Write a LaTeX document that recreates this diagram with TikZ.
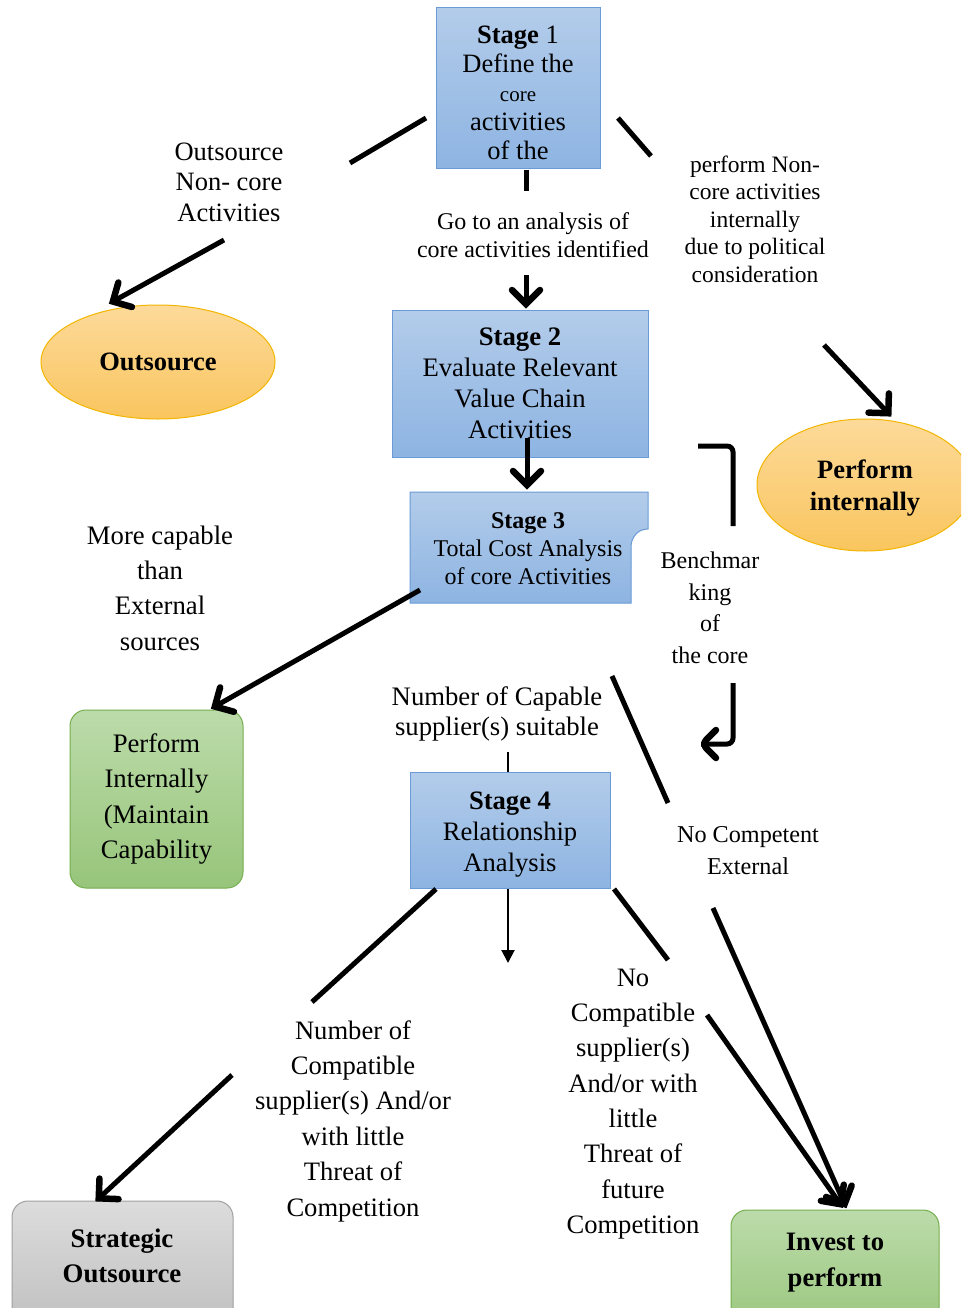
\documentclass[tikz,border=0pt]{standalone}
\usepackage{fontspec}
\setmainfont{Liberation Serif}
\usetikzlibrary{arrows.meta,shapes.geometric,decorations.markings}
\definecolor{blueTop}{HTML}{B3CCEA}
\definecolor{blueBot}{HTML}{8DB4E2}
\definecolor{blueEdge}{HTML}{6A9BD6}
\definecolor{orTop}{HTML}{FDDA9A}
\definecolor{orBot}{HTML}{F9C55E}
\definecolor{orEdge}{HTML}{F2B600}
\definecolor{grTop}{HTML}{BCDBAA}
\definecolor{grBot}{HTML}{97C57A}
\definecolor{grEdge}{HTML}{74AE4E}
\definecolor{gyTop}{HTML}{DCDCDC}
\definecolor{gyBot}{HTML}{BDBDBD}
\definecolor{gyEdge}{HTML}{A0A0A0}
\newcommand{\fsz}[2]{\fontsize{#1}{#2}\selectfont}
\begin{document}
\begin{tikzpicture}[x=1pt,y=-1pt,
  bluebox/.style={draw=blueEdge, line width=1pt, top color=blueTop, bottom color=blueBot, inner sep=0pt, align=center},
  orell/.style={ellipse, draw=orEdge, line width=1pt, top color=orTop, bottom color=orBot, inner sep=0pt, align=center},
  greenbox/.style={draw=grEdge, line width=1pt, rounded corners=16pt, top color=grTop, bottom color=grBot, inner sep=0pt, align=center},
  graybox/.style={draw=gyEdge, line width=1pt, rounded corners=16pt, top color=gyTop, bottom color=gyBot, inner sep=0pt, align=center},
  lbl/.style={align=center, inner sep=0pt},
  thk/.style={line width=5pt},
  thkarr/.style={line width=5pt, postaction={decorate, decoration={markings,
      mark=at position 1 with {\draw[line width=6.5pt, line join=miter, line cap=round] (-15pt,14pt) -- (-1pt,0pt) -- (-15pt,-14pt);}}}},
  thin/.style={line width=2pt},
  thinarr/.style={line width=2pt, -{Triangle[length=13pt,width=13pt]}}
]
\clip (0,0) rectangle (961,1308);
\fill[white] (0,0) rectangle (961,1308);

% ---------- Stage 1 ----------
\node[bluebox, minimum width=164pt, minimum height=161pt] (s1) at (518,88.5) {};
\node[lbl, font=\fsz{26.5}{29}] (s1txt) at (518,93)
  {\textbf{Stage} 1\\Define the\\{\fsz{21}{29}core}\\activities\\of the};

% ---------- labels ----------
\node[lbl, font=\fsz{26.5}{30.5}] (tout) at (229,182) {Outsource\\Non- core\\Activities};
\node[lbl, font=\fsz{24}{28}] (tgo) at (533,235) {Go to an analysis of\\core activities identified};
\node[lbl, font=\fsz{23.5}{27.5}] (tpnc) at (755,219) {perform Non-\\core activities\\internally\\due to political\\consideration};

% ---------- Outsource ----------
\node[orell, minimum width=234pt, minimum height=114pt, font=\fsz{26.5}{30}] (outs) at (158,362)
  {\textbf{Outsource}};
\node[orell, minimum width=216pt, minimum height=132pt] (pint) at (865,485) {};
\node[lbl, font=\fsz{26.5}{32}] (pinttxt) at (865,488) {\textbf{Perform}\\\textbf{internally}};

% ---------- Stage 2 ----------
\node[bluebox, minimum width=256pt, minimum height=147pt, font=\fsz{26.7}{31}] (s2) at (520,383.5)
  {\textbf{Stage 2}\\Evaluate Relevant\\Value Chain\\Activities};

% ---------- Stage 3 (notched) ----------
\path[draw=blueEdge, line width=1pt, top color=blueTop, bottom color=blueBot]
  (410,492) -- (648,492) -- (648,529) .. controls (638,529) and (631,537) .. (631,547)
  -- (631,603) -- (410,603) -- cycle;
\node[lbl, font=\fsz{24}{28}] (s3) at (528,549) {\textbf{Stage 3}\\Total Cost Analysis\\of core Activities};

% ---------- benchmarking ----------
\node[lbl, font=\fsz{24}{31.5}] (tbench) at (710,608) {Benchmar\\king\\of\\the core};
\node[lbl, font=\fsz{26.7}{35.3}] (tmore) at (160,588) {More capable\\than\\External\\sources};

% ---------- Perform Internally (Maintain Capability ----------
\node[greenbox, minimum width=173pt, minimum height=178pt, font=\fsz{26.7}{35.3}] (pim) at (156.5,799)
  {Perform\\Internally\\(Maintain\\Capability};

% ---------- Stage 4 ----------
\node[lbl, font=\fsz{26.7}{30}] (tnum) at (497,714) {Number of Capable\\supplier(s) suitable};
\node[bluebox, minimum width=200pt, minimum height=116pt] (s4) at (510,830) {};
\node[lbl, font=\fsz{26.6}{31}] (s4txt) at (510,835) {\textbf{Stage 4}\\Relationship\\Analysis};
\node[lbl, font=\fsz{24.2}{32}] (tnoc) at (748,851) {No Competent\\External};

% ---------- bottom labels ----------
\node[lbl, font=\fsz{26.6}{35.4}] (tcomp) at (353,1121) {Number of\\Compatible\\supplier(s) And/or\\with little\\Threat of\\Competition};
\node[lbl, font=\fsz{26.6}{35.3}] (tnocomp) at (633,1104) {No\\Compatible\\supplier(s)\\And/or with\\little\\Threat of\\future\\Competition};

% ---------- bottom boxes ----------
\node[graybox, minimum width=221pt, minimum height=140pt] (strat) at (122.5,1271) {};
\node[lbl, font=\fsz{26.8}{35}] (strattxt) at (122,1256) {\textbf{Strategic}\\\textbf{Outsource}};
\node[greenbox, minimum width=208pt, minimum height=130pt] (inv) at (835,1275) {};
\node[lbl, font=\fsz{26.6}{36}] (invtxt) at (835,1263) {\textbf{Invest to}\\\textbf{perform}};

% ---------- connector coordinates ----------
\coordinate (a1) at (426,118);
\coordinate (a2) at (350,163);
\coordinate (b1) at (224,240);
\coordinate (b2) at (112,302);
\coordinate (c1) at (618,118);
\coordinate (c2) at (651,156);
\coordinate (d1) at (824,345);
\coordinate (d2) at (889,414);
\coordinate (e1) at (526,170);
\coordinate (e2) at (526,191);
\coordinate (f1) at (526,275);
\coordinate (f2) at (526,305);
\coordinate (g1) at (527,438);
\coordinate (g2) at (527,486);
\coordinate (h1) at (698,446);
\coordinate (h2) at (733,446);
\coordinate (h3) at (733,526);
\coordinate (i1) at (733,683);
\coordinate (i2) at (733,744);
\coordinate (i3) at (701,744);
\coordinate (j1) at (420,590);
\coordinate (j2) at (214,707);
\coordinate (k1) at (508,752);
\coordinate (k2) at (508,772);
\coordinate (l1) at (612,676);
\coordinate (l2) at (668,803);
\coordinate (m1) at (508,889);
\coordinate (m2) at (508,963);
\coordinate (n1) at (436,889);
\coordinate (n2) at (312,1002);
\coordinate (o1) at (232,1075);
\coordinate (o2) at (98,1199);
\coordinate (p1) at (614,889);
\coordinate (p2) at (668,960);
\coordinate (q1) at (707,1015);
\coordinate (q2) at (841,1205);
\coordinate (r1) at (713,908);
\coordinate (r2) at (845,1205);

% ---------- connectors ----------
\draw[thk] (a1) -- (a2);
\draw[thkarr] (b1) -- (b2);
\draw[thk] (c1) -- (c2);
\draw[thkarr] (d1) -- (d2);
\draw[thk] (e1) -- (e2);
\draw[thkarr] (f1) -- (f2);
\draw[thkarr] (g1) -- (g2);
\draw[thk, rounded corners=6pt] (h1) -- (h2) -- (h3);
\draw[thkarr, rounded corners=6pt] (i1) -- (i2) -- (i3);
\draw[thkarr] (j1) -- (j2);
\draw[thin] (k1) -- (k2);
\draw[thk] (l1) -- (l2);
\draw[thinarr] (m1) -- (m2);
\draw[thk] (n1) -- (n2);
\draw[thkarr] (o1) -- (o2);
\draw[thk] (p1) -- (p2);
\draw[thkarr] (q1) -- (q2);
\draw[thkarr] (r1) -- (r2);
\end{tikzpicture}
\end{document}
